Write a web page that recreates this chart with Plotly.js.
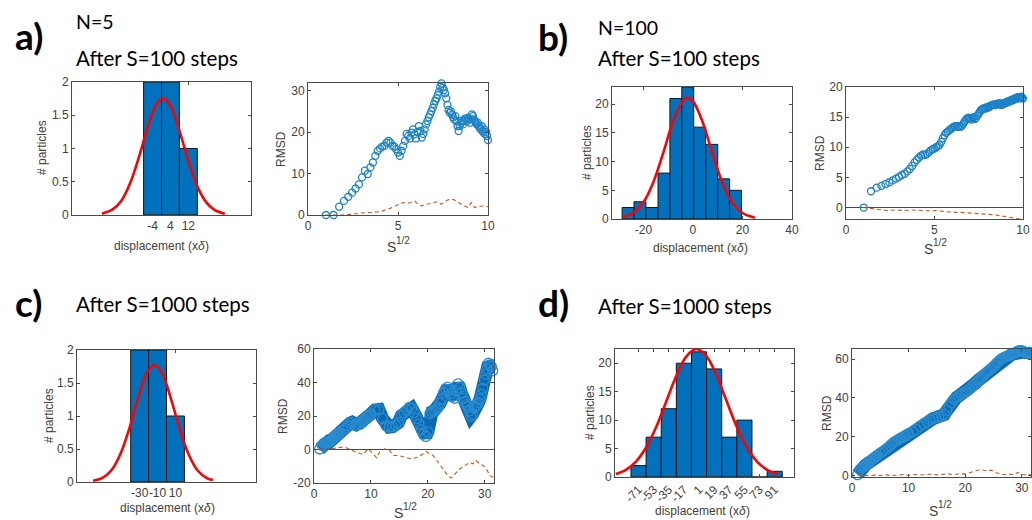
<!DOCTYPE html>
<html><head><meta charset="utf-8">
<script src="https://cdn.plot.ly/plotly-3.0.1.min.js"></script>
<style>html,body{margin:0;padding:0;background:#fff}#chart{width:1032px;height:520px}</style>
</head><body><div id="chart"></div>
<script>
// ---------- data ----------
// histograms (bin centres, counts, bin width)
const histAx = [-4, 4, 12];
const histAy = [2, 2, 1];
const histAw = 8;
const histBx = [-26.2, -21.4, -16.6, -11.7, -6.9, -2.1, 2.7, 7.6, 12.4, 17.2];
const histBy = [2, 3, 2, 8, 21, 23, 16, 13, 7, 5];
const histBw = 4.82;
const histCx = [-30, -10, 10];
const histCy = [2, 2, 1];
const histCw = 20;
const histDx = [-71, -53, -35, -17, 1, 19, 37, 55, 73, 91];
const histDy = [2, 7, 12, 20, 22, 19, 7, 10, 0, 1];
const histDw = 18;

// fitted normal curves
const fitAx = [-26.6,-22,-18,-14,-10,-6,-2,0.7,4,8,12,16,20,24,28.3];
const fitAy = [0.02,0.08,0.21,0.48,0.88,1.34,1.68,1.75,1.64,1.27,0.81,0.43,0.19,0.07,0.02];
const fitBx = [-28,-24,-20,-16,-12,-8,-4,-2.1,0,4,8,12,16,20,25];
const fitBy = [0.34,1.09,2.91,6.42,11.52,17.02,20.64,21.1,20.53,16.77,11.24,6.18,2.79,1.04,0.23];
const fitCx = [-82,-72,-62,-52,-42,-32,-22,-13.5,-5,5,15,25,35,45,52];
const fitCy = [0.02,0.06,0.17,0.41,0.79,1.26,1.65,1.77,1.65,1.26,0.79,0.41,0.17,0.06,0.03];
const fitDx = [-98,-86,-74,-62,-50,-38,-26,-14,-2,10,22,34,46,58,70,82,95];
const fitDy = [0.52,1.26,2.71,5.18,8.78,13.26,17.79,21.22,22.5,21.22,17.79,13.26,8.78,5.18,2.71,1.26,0.48];

// RMSD vs S (x axis = S^(1/2))
const stepsAB = Array.from({length: 100}, (_, i) => i + 1);
const rmsdA = [0,0,2.0,3.4,4.4,5.4,6.4,7.4,9.1,10.7, 9.9,11.5,12.7,14.3,15.5,16.1,16.5,16.7,17.5,17.9,
  17.5,16.7,16.5,15.9,15.1,14.3,15.5,16.7,17.9,19.6, 19.1,18.5,19.9,20.7,19.5,18.5,20.1,21.5,20.3,18.7,
  19.6,20.7,21.9,22.7,23.6,24.3,25.1,25.9,26.8,27.6, 28.2,29.0,29.8,31.0,31.8,30.8,30.2,29.4,28.2,26.6,
  25.4,24.7,25.1,24.3,23.6,23.1,23.9,22.7,21.5,20.3, 21.5,22.3,22.8,21.9,22.7,23.3,23.1,22.7,23.5,23.1,
  22.3,23.1,24.3,23.9,23.1,22.7,22.3,21.9,22.3,21.5, 21.1,20.7,21.5,20.3,19.9,20.7,19.5,20.1,19.1,18.1];
const rmsdB = [0,2.7,3.3,3.6,3.9,4.2,4.5,4.8,5.1,5.4, 5.6,6.0,6.4,6.9,7.5,7.9,8.3,8.6,8.8,8.7,
  8.9,9.2,9.5,9.7,9.8,10.0,10.2,10.4,10.9,11.5, 12.0,12.4,12.6,12.8,13.0,13.2,13.4,13.5,13.5,13.4,
  13.5,13.4,13.6,13.9,14.3,14.6,14.8,14.9,14.8,14.6, 14.8,15.0,14.7,14.9,15.2,15.5,15.8,16.1,16.3,16.4,
  16.5,16.4,16.6,16.7,16.6,16.8,16.9,17.0,17.0,17.1, 17.0,17.2,17.1,17.2,17.3,17.2,17.0,17.1,17.3,17.2,
  17.4,17.5,17.4,17.6,17.7,17.6,17.8,17.9,17.8,18.0, 18.1,18.0,18.2,18.3,18.2,18.1,18.3,18.4,18.2,18.1];
const stepsCD = [1,2,3,4,5,6,7,8,9,10,11,12,13,14,15,16,17,18,19,20,
  25,30,35,40,45,50,55,60,65,70,75,80,85,90,95,100,
  115,130,145,160,175,190,205,220,235,250,265,280,295,310,325,340,355,370,385,400,
  415,430,445,460,475,490,505,520,535,550,565,580,595,610,625,640,655,670,685,700,
  715,730,745,760,775,790,805,820,835,850,865,880,895,910,925,940,955,970,985,1000];
const rmsdC = [0.3,2.5,3.8,4.2,4.0,4.6,4.3,5.0,5.5,6.0, 6.5,6.8,7.5,7.9,8.2,8.6,8.9,9.3,9.7,10.0,
  11.5,12.8,14.2,15.6,16.2,14.5,14.9,15.6,15.0,16.5,17.5,18.0,19.2,19.6,20.5,21.2,
  23.6,23.9,18.5,14.2,13.4,13.6,14.5,16.0,20.2,22.0, 23.5,25.2,24.6,22.0,18.4,15.2,11.8,9.2,7.8,10.5,
  21.5,22.5,23.2,24.0,25.2,27.5,30.0,34.0,36.0,37.2, 35.5,33.5,31.8,30.6,35.0,39.2,37.0,33.6,30.5,28.5,
  26.8,25.6,23.0,19.8,21.0,24.8,25.8,26.8,28.0,30.0, 33.0,36.5,41.5,45.0,48.0,51.5,50.5,49.5,47.0,45.5];
const rmsdD = [0.5,3.2,4.0,4.6,5.0,5.6,6.0,6.4,6.8,7.2, 7.5,7.9,8.4,8.6,8.9,9.3,9.6,9.8,10.1,10.4,
  11.6,12.5,13.5,14.3,15.4,16.4,17.2,17.8,18.4,18.9,19.4,19.8,20.3,20.6,21.2,21.6,
  22.6,23.8,25.5,26.6,27.6,28.6,29.4,29.9,30.2,30.6, 31.4,33.5,35.8,37.6,39.2,40.2,40.9,41.6,42.3,43.0,
  43.6,44.6,45.6,46.6,47.6,48.7,49.5,50.2,51.0,52.2, 53.1,53.9,54.6,55.4,56.3,57.0,58.1,58.8,59.6,60.2,
  60.6,61.1,61.3,61.6,62.0,62.2,62.6,62.9,63.4,63.8, 64.2,64.4,64.3,64.1,63.7,63.4,63.2,63.3,63.6,63.5];

// dashed (bias) curves
const redAx = [1,1.41,1.94,2.5,2.96,3.5,4.0,4.44,4.9,5.28,5.65,5.93,6.1,6.3,6.57,6.85,7.13,7.4,7.78,8.05,8.33,8.5,8.7,8.9,9.07,9.26,9.54,9.8,10];
const redAy = [0,0,0,0.2,0.5,0.6,0.8,1.4,2.2,3.0,2.9,3.4,2.6,2.2,2.6,2.8,3.2,2.6,3.7,3.8,3.2,2.6,2.2,1.8,3.0,1.8,2.1,2.2,2.0];
const redBx = [0.96,1.43,1.9,2.35,2.8,3.3,3.7,4.2,4.67,5.1,5.6,6.05,6.5,7.0,7.4,7.9,8.4,8.8,9.3,9.67,10];
const redBy = [0,-0.2,-0.4,-0.5,-0.4,-0.5,-0.4,-0.5,-0.55,-0.5,-0.66,-0.8,-0.8,-0.9,-0.9,-1.05,-1.2,-1.4,-1.7,-1.9,-2.0];
const redCx = [0.7,1.9,3,3.9,4.8,5.7,6.6,7.4,8.6,9.5,10.4,11,11.5,12.4,13.3,13.9,14.8,15.9,17.1,18.3,19.2,19.7,20.3,20.9,21.8,22.7,23.5,24.1,24.7,25.6,26.5,27.4,27.9,28.5,29.1,29.7,30.3,30.9,31.5];
const redCy = [0,-0.6,0.4,1,1.4,1,-0.6,-1.6,-3,0.4,-2.6,-5,-1.6,0.4,-0.6,-3.6,-3.6,-4.6,-5.6,-4.6,-2.6,-1.2,-2.6,-3.6,-7.6,-11.6,-15.6,-17,-14.6,-11.6,-9.6,-7.6,-8.6,-6.6,-8.6,-9.6,-11.6,-15.6,-16.6];
const redDx = [1,2,3,4,5,6,7,8,9,10,11,12,13,14,15,16,17,18,19,20,21,22,22.7,23.3,24,24.6,25.2,26,27,27.8,28.5,29.3,30,30.8,31.6];
const redDy = [0,0.2,-0.1,0.3,0.1,0.4,0,0.3,0.5,0.2,0.6,0.3,0.5,0.8,0.4,0.7,0.9,0.5,1.0,0.8,1.6,2.6,3.2,2.8,2.4,2.8,1.8,1.0,0.5,0.8,0.4,1.6,0.6,0.3,0.5];

// tick labels
const ticksHistAx = [-4, 4, 12];
const ticksHistCx = [-30, -10, 10];
const ticksHistDx = [-71, -53, -35, -17, 1, 19, 37, 55, 73, 91];

// ---------- layout ----------
const W = 1032, H = 520;
const px = v => v / W, py = v => 1 - v / H;
const tickFont = {family: 'Liberation Sans, Arial, sans-serif', size: 12, color: '#404040'};
const LINE = '#4a4a4a';

function ax(dom, range, tickvals, extra) {
  return Object.assign({
    domain: dom, range: range, tickvals: tickvals, ticktext: tickvals.map(v => String(v)),
    tickangle: 0, showline: true, linecolor: LINE, linewidth: 1,
    mirror: 'ticks', ticks: 'inside', ticklen: 3, tickcolor: LINE, showgrid: false, zeroline: false,
    tickfont: tickFont, fixedrange: true, ticklabeloverflow: 'allow'
  }, extra || {});
}

const panels = [
  {box: [72, 251, 82, 215], xr: [-40, 40], yr: [0, 2], xt: ticksHistAx, yt: [0, 0.5, 1, 1.5, 2]},
  {box: [308, 488, 83, 215], xr: [0, 10], yr: [0, 31.9], xt: [0, 5, 10], yt: [0, 10, 20, 30]},
  {box: [612, 792, 87, 219], xr: [-32.7, 40], yr: [0, 23], xt: [-20, 0, 20, 40], yt: [0, 5, 10, 15, 20]},
  {box: [846, 1023, 87, 219], xr: [0, 10.005], yr: [-1.9, 20], xt: [0, 5, 10], yt: [0, 5, 10, 15, 20], zero: true},
  {box: [77, 256, 350, 482], xr: [-100, 100], yr: [0, 2], xt: ticksHistCx, yt: [0, 0.5, 1, 1.5, 2]},
  {box: [314, 494, 349, 483], xr: [0, 31.62], yr: [-20, 60], xt: [0, 10, 20, 30], yt: [-20, 0, 20, 40, 60], zero: true},
  {box: [615, 794, 349, 477], xr: [-99, 114], yr: [0, 22.5], xt: ticksHistDx, yt: [0, 5, 10, 15, 20], angle: -45},
  {box: [852, 1031, 349, 477], xr: [0, 31.62], yr: [-0.7, 65.2], xt: [0, 10, 20, 30], yt: [0, 20, 40, 60]}
];

const layout = {
  width: W, height: H, margin: {l: 0, r: 0, t: 0, b: 0}, showlegend: false,
  paper_bgcolor: '#fff', plot_bgcolor: '#fff', bargap: 0, annotations: []
};
panels.forEach((p, i) => {
  const n = i === 0 ? '' : String(i + 1);
  const xe = {anchor: 'y' + n};
  if (p.angle) xe.tickangle = p.angle;
  const ye = {anchor: 'x' + n};
  if (p.zero) Object.assign(ye, {zeroline: true, zerolinecolor: LINE, zerolinewidth: 1});
  layout['xaxis' + n] = ax([px(p.box[0]), px(p.box[1])], p.xr, p.xt, xe);
  layout['yaxis' + n] = ax([py(p.box[3]), py(p.box[2])], p.yr, p.yt, ye);
});

// ---------- traces ----------
const BLUE = '#0072BD';
const traces = [];
function hist(xs, ys, w, n) {
  traces.push({type: 'bar', x: xs, y: ys, width: w, xaxis: 'x' + n, yaxis: 'y' + n,
    marker: {color: BLUE, line: {color: '#141414', width: 1}}, hoverinfo: 'skip'});
}
function fit(xs, ys, n) {
  traces.push({type: 'scatter', mode: 'lines', x: xs, y: ys, xaxis: 'x' + n, yaxis: 'y' + n,
    line: {color: '#ff0000', width: 2.6, shape: 'spline'}, hoverinfo: 'skip'});
}
function rmsd(steps, ys, n, dense) {
  const xs = steps.map(s => Math.sqrt(s));
  traces.push({type: 'scatter', mode: dense ? 'lines+markers' : 'markers', x: xs, y: ys,
    xaxis: 'x' + n, yaxis: 'y' + n, cliponaxis: false,
    line: {color: '#0a69b2', width: 13},
    marker: {symbol: 'circle-open', size: dense ? 10 : 7, color: dense ? '#2a8ccf' : '#1a82c8', line: {width: 1.3}},
    hoverinfo: 'skip'});
}
function bias(xs, ys, n) {
  traces.push({type: 'scatter', mode: 'lines', x: xs, y: ys, xaxis: 'x' + n, yaxis: 'y' + n,
    line: {color: '#D95319', width: 1.1, dash: '4px,3px'}, hoverinfo: 'skip'});
}

hist(histAx, histAy, histAw, ''); fit(fitAx, fitAy, '');
rmsd(stepsAB, rmsdA, '2', false); bias(redAx, redAy, '2');
hist(histBx, histBy, histBw, '3'); fit(fitBx, fitBy, '3');
rmsd(stepsAB, rmsdB, '4', false); bias(redBx, redBy, '4');
hist(histCx, histCy, histCw, '5'); fit(fitCx, fitCy, '5');
rmsd(stepsCD, rmsdC, '6', true); bias(redCx, redCy, '6');
hist(histDx, histDy, histDw, '7'); fit(fitDx, fitDy, '7');
rmsd(stepsCD, rmsdD, '8', true); bias(redDx, redDy, '8');

// ---------- texts ----------
function note(text, x, y, opts) {
  layout.annotations.push(Object.assign({text: text, x: px(x), y: py(y), xref: 'paper', yref: 'paper',
    showarrow: false, xanchor: 'center', yanchor: 'middle', borderpad: 0, borderwidth: 0}, opts || {}));
}
const FF = 'Liberation Sans, Arial, sans-serif';
const headFont = {family: 'Lato, Open Sans, sans-serif', size: 20.5, color: '#000'};
const nFont = {family: 'Lato, Open Sans, sans-serif', size: 19.5, color: '#000'};
const letterFont = {family: 'Lato, Open Sans, sans-serif', size: 37, color: '#000', weight: 'bold'};
const axFont = {family: FF, size: 12, color: '#404040'};
const axFontIt = {family: FF, size: 12, color: '#404040', style: 'italic'};
const sFont = {family: FF, size: 14, color: '#404040'};
const supFont = {family: FF, size: 10, color: '#404040'};

note('a)', 29, 36, {font: letterFont});
note('b)', 553, 37, {font: letterFont});
note('c)', 28, 302, {font: letterFont});
note('d)', 553, 302, {font: letterFont});
note('N=5', 76, 22, {font: nFont, xanchor: 'left'});
note('After S=100 steps', 76, 58, {font: headFont, xanchor: 'left'});
note('N=100', 598, 27, {font: nFont, xanchor: 'left'});
note('After S=100 steps', 598, 58, {font: headFont, xanchor: 'left'});
note('After S=1000 steps', 76, 304, {font: headFont, xanchor: 'left'});
note('After S=1000 steps', 598, 306, {font: headFont, xanchor: 'left'});

// "displacement (xδ)" with italic δ, built from plain pieces
function dispLabel(cx, cy) {
  const left = cx - 47.3;
  note('displacement (x', left, cy, {font: axFont, xanchor: 'left'});
  note('δ', left + 84.2, cy, {font: axFontIt, xanchor: 'left'});
  note(')', left + 91, cy, {font: axFont, xanchor: 'left'});
}
// "S^1/2"
function sLabel(cx, cy) {
  note('S', cx - 7, cy + 2.5, {font: sFont});
  note('1/2', cx + 5, cy - 3.5, {font: supFont});
}
dispLabel(161, 246); dispLabel(700, 248); dispLabel(167, 508); dispLabel(702, 511);
sLabel(398, 244); sLabel(935, 246); sLabel(405, 510); sLabel(940, 508);

note('# particles', 42, 148, {font: axFont, textangle: -90});
note('# particles', 587, 153, {font: axFont, textangle: -90});
note('# particles', 49, 416, {font: axFont, textangle: -90});
note('# particles', 590, 413, {font: axFont, textangle: -90});
note('RMSD', 281, 149, {font: axFont, textangle: -90});
note('RMSD', 820, 153, {font: axFont, textangle: -90});
note('RMSD', 283, 416, {font: axFont, textangle: -90});
note('RMSD', 827, 413, {font: axFont, textangle: -90});

Plotly.newPlot('chart', traces, layout, {staticPlot: true, displayModeBar: false});
</script></body></html>
